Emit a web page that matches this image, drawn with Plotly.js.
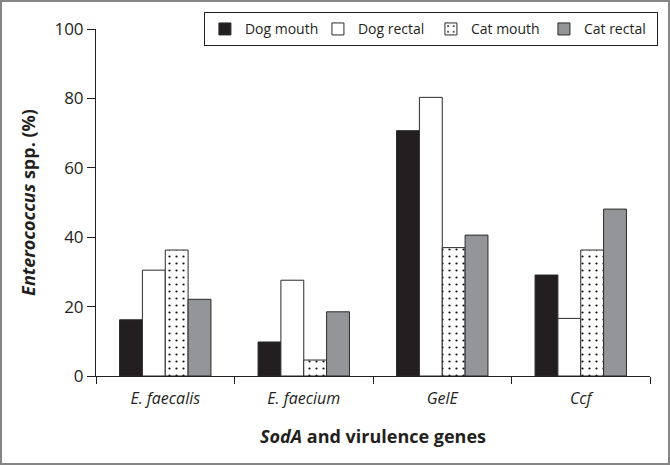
<!DOCTYPE html>
<html>
<head>
<meta charset="utf-8">
<script src="https://cdn.plot.ly/plotly-3.0.1.min.js"></script>
<style>
html,body{margin:0;padding:0;background:#fff;}
#wrap{position:relative;width:670px;height:465px;}
#chart{width:670px;height:465px;}
#frame{position:absolute;left:0;top:0;width:670px;height:465px;box-sizing:border-box;border:2px solid #858585;pointer-events:none;}
</style>
</head>
<body>
<div id="wrap"><div id="chart"></div><div id="frame"></div></div>
<script>
const categories = ["E. faecalis", "E. faecium", "GelE", "Ccf"];
const tickLabels = ["<i>E. faecalis</i>", "<i>E. faecium</i>", "<i>GelE</i>", "<i>Ccf</i>"];
const seriesNames = ["Dog mouth", "Dog rectal", "Cat mouth", "Cat rectal"];
const dogMouth = [16.2, 9.8, 70.7, 29.1];
const dogRectal = [30.5, 27.6, 80.3, 16.6];
const catMouth = [36.3, 4.6, 37.0, 36.3];
const catRectal = [22.1, 18.5, 40.6, 48.1];

const FONT = "Open Sans, Liberation Sans, sans-serif";
const outline = {color: "#2a2a2a", width: 1};

const traces = [
  {type: "bar", name: seriesNames[0], x: categories, y: dogMouth,
   marker: {color: "#231f20", line: outline}},
  {type: "bar", name: seriesNames[1], x: categories, y: dogRectal,
   marker: {color: "#ffffff", line: outline}},
  {type: "bar", name: seriesNames[2], x: categories, y: catMouth,
   marker: {color: "#ffffff", line: outline,
            pattern: {shape: ".", bgcolor: "#ffffff", fgcolor: "#111111", size: 7, solidity: 0.08}}},
  {type: "bar", name: seriesNames[3], x: categories, y: catRectal,
   marker: {color: "#939598", line: outline}}
];

const layout = {
  width: 670, height: 465,
  margin: {l: 96, r: 16, t: 25, b: 89},
  paper_bgcolor: "#ffffff", plot_bgcolor: "#ffffff",
  font: {family: FONT, color: "#231f20", size: 16},
  barmode: "group", bargap: 0.34, bargroupgap: 0,
  showlegend: true,
  legend: {orientation: "h", x: 1.0143, xanchor: "right", y: 1.048, yanchor: "top",
           bordercolor: "#231f20", borderwidth: 1, bgcolor: "#ffffff",
           entrywidth: 68, entrywidthmode: "pixels",
           font: {family: FONT, size: 14, color: "#231f20"}, traceorder: "normal"},
  xaxis: {type: "category", tickvals: categories, ticktext: tickLabels,
          showline: true, linecolor: "#231f20", linewidth: 1,
          ticks: "outside", tickson: "boundaries", ticklen: 7, tickcolor: "#231f20",
          ticklabelstandoff: 8,
          showgrid: false, zeroline: false,
          tickfont: {family: FONT, size: 16, color: "#231f20"},
          title: {text: "<b><i>SodA</i> and virulence genes</b>", standoff: 22,
                  font: {family: FONT, size: 18, color: "#231f20"}}},
  yaxis: {range: [0, 100], tickvals: [0, 20, 40, 60, 80, 100],
          showline: true, linecolor: "#231f20", linewidth: 1,
          ticks: "outside", ticklen: 8, tickcolor: "#231f20",
          showgrid: false, zeroline: false,
          tickfont: {family: FONT, size: 17, color: "#231f20"},
          title: {text: "<b><i>Enterococcus</i> spp. (%)</b>", standoff: 14,
                  font: {family: FONT, size: 18, color: "#231f20"}}}
};

Plotly.newPlot("chart", traces, layout, {displayModeBar: false, staticPlot: true});
</script>
</body>
</html>
